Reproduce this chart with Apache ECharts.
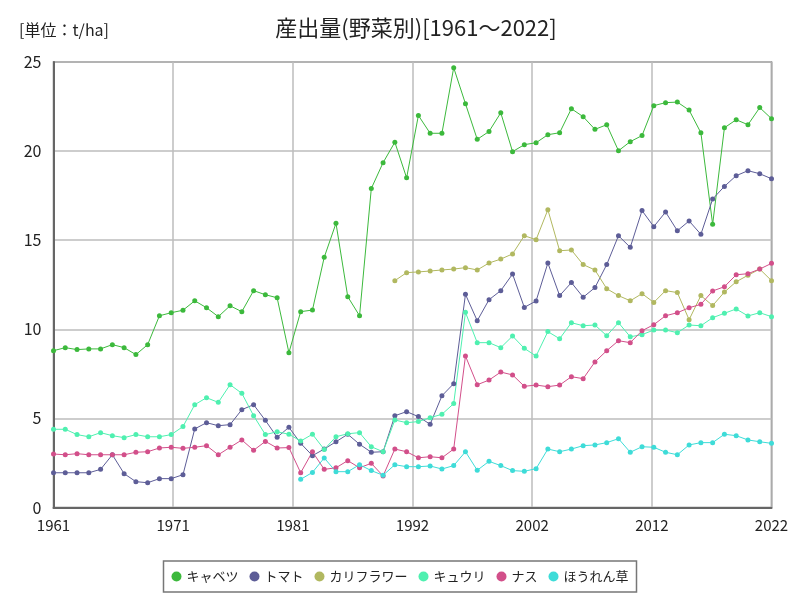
<!DOCTYPE html>
<html>
<head>
<meta charset="utf-8">
<script src="https://cdn.jsdelivr.net/npm/echarts@6/dist/echarts.min.js"></script>
<style>html,body{margin:0;padding:0;background:#fff}#c{width:800px;height:600px}</style>
</head>
<body>
<div id="c"></div>
<script>
const startYear = 1961;
const endYear = 2022;
const seriesNames = ['キャベツ','トマト','カリフラワー','キュウリ','ナス','ほうれん草'];
const cabbage = [8.8,8.97,8.86,8.9,8.9,9.14,8.97,8.58,9.14,10.76,
10.93,11.07,11.6,11.21,10.71,11.32,10.99,12.17,11.94,11.77,
8.69,10.99,11.08,14.04,15.95,11.83,10.76,17.9,19.35,20.5,
18.5,22.0,21.0,21.0,24.68,22.66,20.66,21.1,22.15,19.97,
20.36,20.47,20.92,21.03,22.38,21.93,21.22,21.48,20.02,20.53,
20.87,22.55,22.72,22.75,22.3,21.03,15.89,21.31,21.76,21.48,
22.44,21.82];
const tomato = [1.95,1.95,1.95,1.95,2.14,2.96,1.9,1.45,1.39,1.62,
1.62,1.84,4.41,4.76,4.59,4.65,5.49,5.77,4.89,3.94,
4.5,3.6,2.91,3.28,3.69,4.11,3.55,3.1,3.13,5.15,
5.38,5.1,4.67,6.27,6.95,11.96,10.48,11.66,12.17,13.1,
11.23,11.59,13.72,11.89,12.62,11.8,12.34,13.63,15.25,14.6,
16.66,15.76,16.58,15.53,16.08,15.33,17.31,18.02,18.62,18.9,
18.73,18.45];
const cauliflower = [null,null,null,null,null,null,null,null,null,null,
null,null,null,null,null,null,null,null,null,null,
null,null,null,null,null,null,null,null,null,12.73,
13.18,13.22,13.27,13.33,13.38,13.46,13.33,13.72,13.94,14.23,
15.25,15.03,16.71,14.41,14.45,13.63,13.33,12.28,11.89,11.6,
12.0,11.51,12.17,12.06,10.54,11.89,11.33,12.09,12.67,13.03,
13.38,12.73];
const cucumber = [4.39,4.39,4.09,3.97,4.2,4.03,3.92,4.09,3.97,3.97,
4.09,4.54,5.77,6.16,5.9,6.89,6.41,5.15,4.09,4.25,
4.11,3.73,4.11,3.26,3.97,4.14,4.2,3.41,3.13,4.91,
4.76,4.82,5.04,5.23,5.83,10.95,9.25,9.25,8.97,9.62,
8.93,8.5,9.87,9.47,10.37,10.2,10.24,9.64,10.37,9.58,
9.7,9.96,9.96,9.81,10.24,10.2,10.65,10.9,11.14,10.75,
10.93,10.71];
const eggplant = [3.0,2.96,3.02,2.96,2.96,2.96,2.96,3.1,3.13,3.34,
3.38,3.32,3.38,3.47,2.96,3.38,3.79,3.21,3.71,3.34,
3.36,1.95,3.13,2.14,2.23,2.63,2.23,2.48,1.77,3.28,
3.13,2.79,2.85,2.79,3.28,8.5,6.89,7.15,7.6,7.44,
6.8,6.87,6.78,6.87,7.34,7.23,8.17,8.8,9.36,9.25,
9.92,10.26,10.76,10.93,11.21,11.4,12.15,12.39,13.06,13.12,
13.38,13.7];
const spinach = [null,null,null,null,null,null,null,null,null,null,
null,null,null,null,null,null,null,null,null,null,
null,1.58,1.97,2.78,2.01,2.01,2.4,2.07,1.81,2.4,
2.29,2.29,2.33,2.16,2.35,3.13,2.09,2.59,2.35,2.07,
2.03,2.18,3.28,3.13,3.28,3.47,3.51,3.64,3.86,3.1,
3.41,3.38,3.1,2.96,3.51,3.64,3.64,4.11,4.03,3.79,
3.69,3.6];
const yTicks = [0,5,10,15,20,25];

const allValues = [cabbage, tomato, cauliflower, cucumber, eggplant, spinach];
const colors = ['#3cb93c','#5d5d97','#b1b860','#4ff0b0','#d24f8a','#3edcd8'];
const font = "'Noto Sans CJK JP', 'Noto Sans', sans-serif";

const series = seriesNames.map((name, i) => ({
  name: name,
  type: 'line',
  data: allValues[i].map((v, k) => [startYear + k, v]),
  symbol: 'circle',
  symbolSize: 5,
  showSymbol: true,
  connectNulls: false,
  lineStyle: { width: 1, color: colors[i] },
  itemStyle: { color: colors[i] },
  emphasis: { disabled: true },
  animation: false
}));

const chart = echarts.init(document.getElementById('c'), null, { renderer: 'canvas' });
chart.setOption({
  animation: false,
  backgroundColor: '#fff',
  title: [{
    text: '産出量(野菜別)[1961～2022]',
    left: 411, top: 12, textAlign: 'center',
    textStyle: { fontFamily: font, fontSize: 22, fontWeight: 'normal', color: '#222' }
  }, {
    text: '[単位：t/ha]',
    left: 14, top: 17,
    textStyle: { fontFamily: font, fontSize: 16, fontWeight: 'normal', color: '#222' }
  }],
  legend: {
    data: seriesNames,
    bottom: 8, left: 'center',
    icon: 'circle', itemWidth: 10, itemHeight: 10, itemGap: 11,
    borderColor: '#777', borderWidth: 1.5, padding: [9, 8],
    textStyle: { fontFamily: font, fontSize: 13, color: '#222' }
  },
  grid: {
    left: 53.5, right: 28.5, top: 62, bottom: 92.5,
    show: true, borderColor: '#777', borderWidth: 1.5
  },
  xAxis: {
    type: 'value', min: startYear, max: endYear, interval: (endYear - startYear) / 6,
    axisLine: { show: true, lineStyle: { color: '#666', width: 2 } },
    axisTick: { show: false },
    splitLine: { show: true, lineStyle: { color: '#bdbdbd', width: 1.5 } },
    axisLabel: {
      fontFamily: font, fontSize: 15, color: '#222', margin: 10,
      formatter: v => String(Math.round(v))
    }
  },
  yAxis: {
    type: 'value', min: yTicks[0], max: yTicks[yTicks.length - 1], interval: 5,
    axisLine: { show: true, lineStyle: { color: '#666', width: 2 } },
    axisTick: { show: false },
    splitLine: { show: true, lineStyle: { color: '#bdbdbd', width: 1.5 } },
    axisLabel: { fontFamily: font, fontSize: 16, color: '#222', margin: 12 }
  },
  series: series
});
</script>
</body>
</html>
